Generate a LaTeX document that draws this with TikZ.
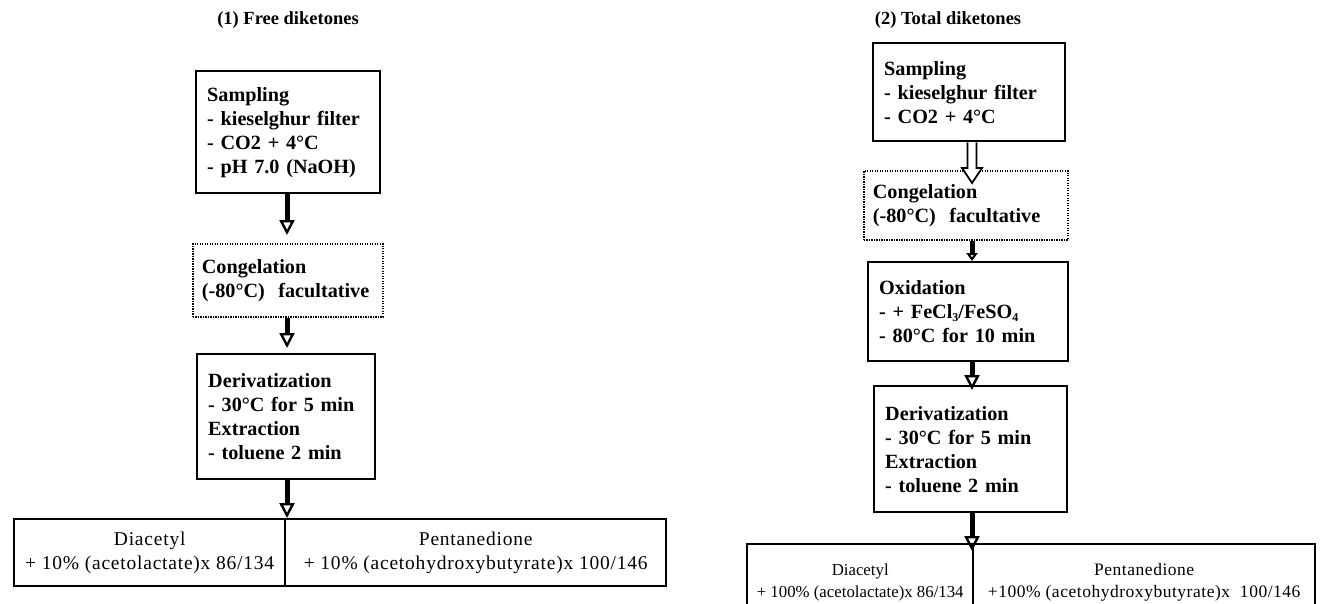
\documentclass[tikz,border=0pt]{standalone}
\usepackage{fontspec}
\setmainfont{Liberation Serif}
\usetikzlibrary{arrows.meta,calc}
\newcommand\subsc[1]{\raisebox{-0.35ex}{\fontsize{12}{12}\selectfont #1}}
\begin{document}
\begin{tikzpicture}[x=1pt,y=-1pt,
  box/.style={draw, line width=2.4pt, anchor=north west, align=left, inner xsep=11pt, inner ysep=0pt, font=\bfseries\fontsize{20.2}{24}\selectfont},
  dotbox/.style={box, line width=1.8pt, dash pattern=on 1.4pt off 1.1pt, inner xsep=9pt},
  res/.style={draw, line width=2.4pt, anchor=north west, align=center, inner sep=0pt},
  resL/.style={res, font=\addfontfeature{LetterSpace=4}\fontsize{19.5}{24}\selectfont},
  resRa/.style={res, font=\fontsize{16.8}{22}\selectfont},
  resRb/.style={res, font=\addfontfeature{LetterSpace=3}\fontsize{17.5}{22}\selectfont},
  flow/.style={line width=5pt, -{Triangle[open,length=15pt,width=15pt,line width=2.4pt]}},
  flowsmall/.style={line width=5pt, -{Triangle[open,length=8pt,width=11pt,line width=2.2pt]}},
  ttl/.style={font=\bfseries\fontsize{18.5}{22}\selectfont}
]
\useasboundingbox (0,0) rectangle (1321,603);

% titles
\node[ttl] (t1) at (288,20) {(1) Free diketones};
\node[ttl] (t2) at (948,20) {(2) Total diketones};

% left column
\node[box, text width=162pt, minimum height=122pt] (s1) at (195,70)
  {Sampling\\- kieselghur filter\\- CO2 + 4°C\\- pH 7.0 (NaOH)};
\node[dotbox, text width=172pt, minimum height=73pt] (c1) at (192,243)
  {Congelation\\(-80°C)\ \ facultative};
\node[box, text width=156pt, minimum height=125pt] (d1) at (196,353)
  {Derivatization\\- 30°C for 5 min\\Extraction\\- toluene 2 min};
\node[resL, minimum width=271pt, minimum height=67pt] (b1a) at (13,518)
  {Diacetyl\\+ 10\% (acetolactate)x 86/134};
\node[resL, minimum width=381pt, minimum height=67pt] (b1b) at (284,518)
  {Pentanedione\\+ 10\% (acetohydroxybutyrate)x 100/146};

\coordinate (a1) at (287,0);
\draw[flow, shorten >=8pt] (s1.south -| a1) -- (c1.north -| a1);
\draw[flow, shorten >=5pt] (c1.south -| a1) -- (d1.north -| a1);
\draw[flow] (d1.south -| a1) -- (b1a.north -| a1);

% right column
\node[box, text width=170pt, minimum height=98pt] (s2) at (872,42)
  {Sampling\\- kieselghur filter\\- CO2 + 4°C};
\node[dotbox, text width=186pt, minimum height=69pt] (c2) at (863,170)
  {Congelation\\(-80°C)\ \ facultative};
\node[box, text width=178pt, minimum height=99pt] (o2) at (867,261)
  {Oxidation\\- + FeCl\subsc{3}/FeSO\subsc{4}\\- 80°C for 10 min};
\node[box, text width=171pt, minimum height=126pt] (d2) at (873,385)
  {Derivatization\\- 30°C for 5 min\\Extraction\\- toluene 2 min};
\node[resRa, minimum width=226pt, minimum height=76pt] (b2a) at (746,543)
  {Diacetyl\\+ 100\% (acetolactate)x 86/134};
\node[resRb, minimum width=342pt, minimum height=76pt] (b2b) at (972,543)
  {Pentanedione\\+100\% (acetohydroxybutyrate)x\ \ 100/146};

\coordinate (a2) at (972,0);
\path (s2.south -| a2) coordinate (h1) (c2.north -| a2) coordinate (h2);
\draw[line width=1.8pt, fill=white]
  ($(h1)+(-4.5,0)$) -- ($(h2)+(-4.5,-2)$) -- ($(h2)+(-10,-2)$) -- ($(h2)+(0,13)$)
  -- ($(h2)+(10,-2)$) -- ($(h2)+(4.5,-2)$) -- ($(h1)+(4.5,0)$);
\draw[flowsmall] (c2.south -| a2) -- (o2.north -| a2);
\draw[flow, shorten >=-5pt] (o2.south -| a2) -- (d2.north -| a2);
\draw[flow, shorten >=-8pt] (d2.south -| a2) -- (b2a.north -| a2);
\end{tikzpicture}
\end{document}
